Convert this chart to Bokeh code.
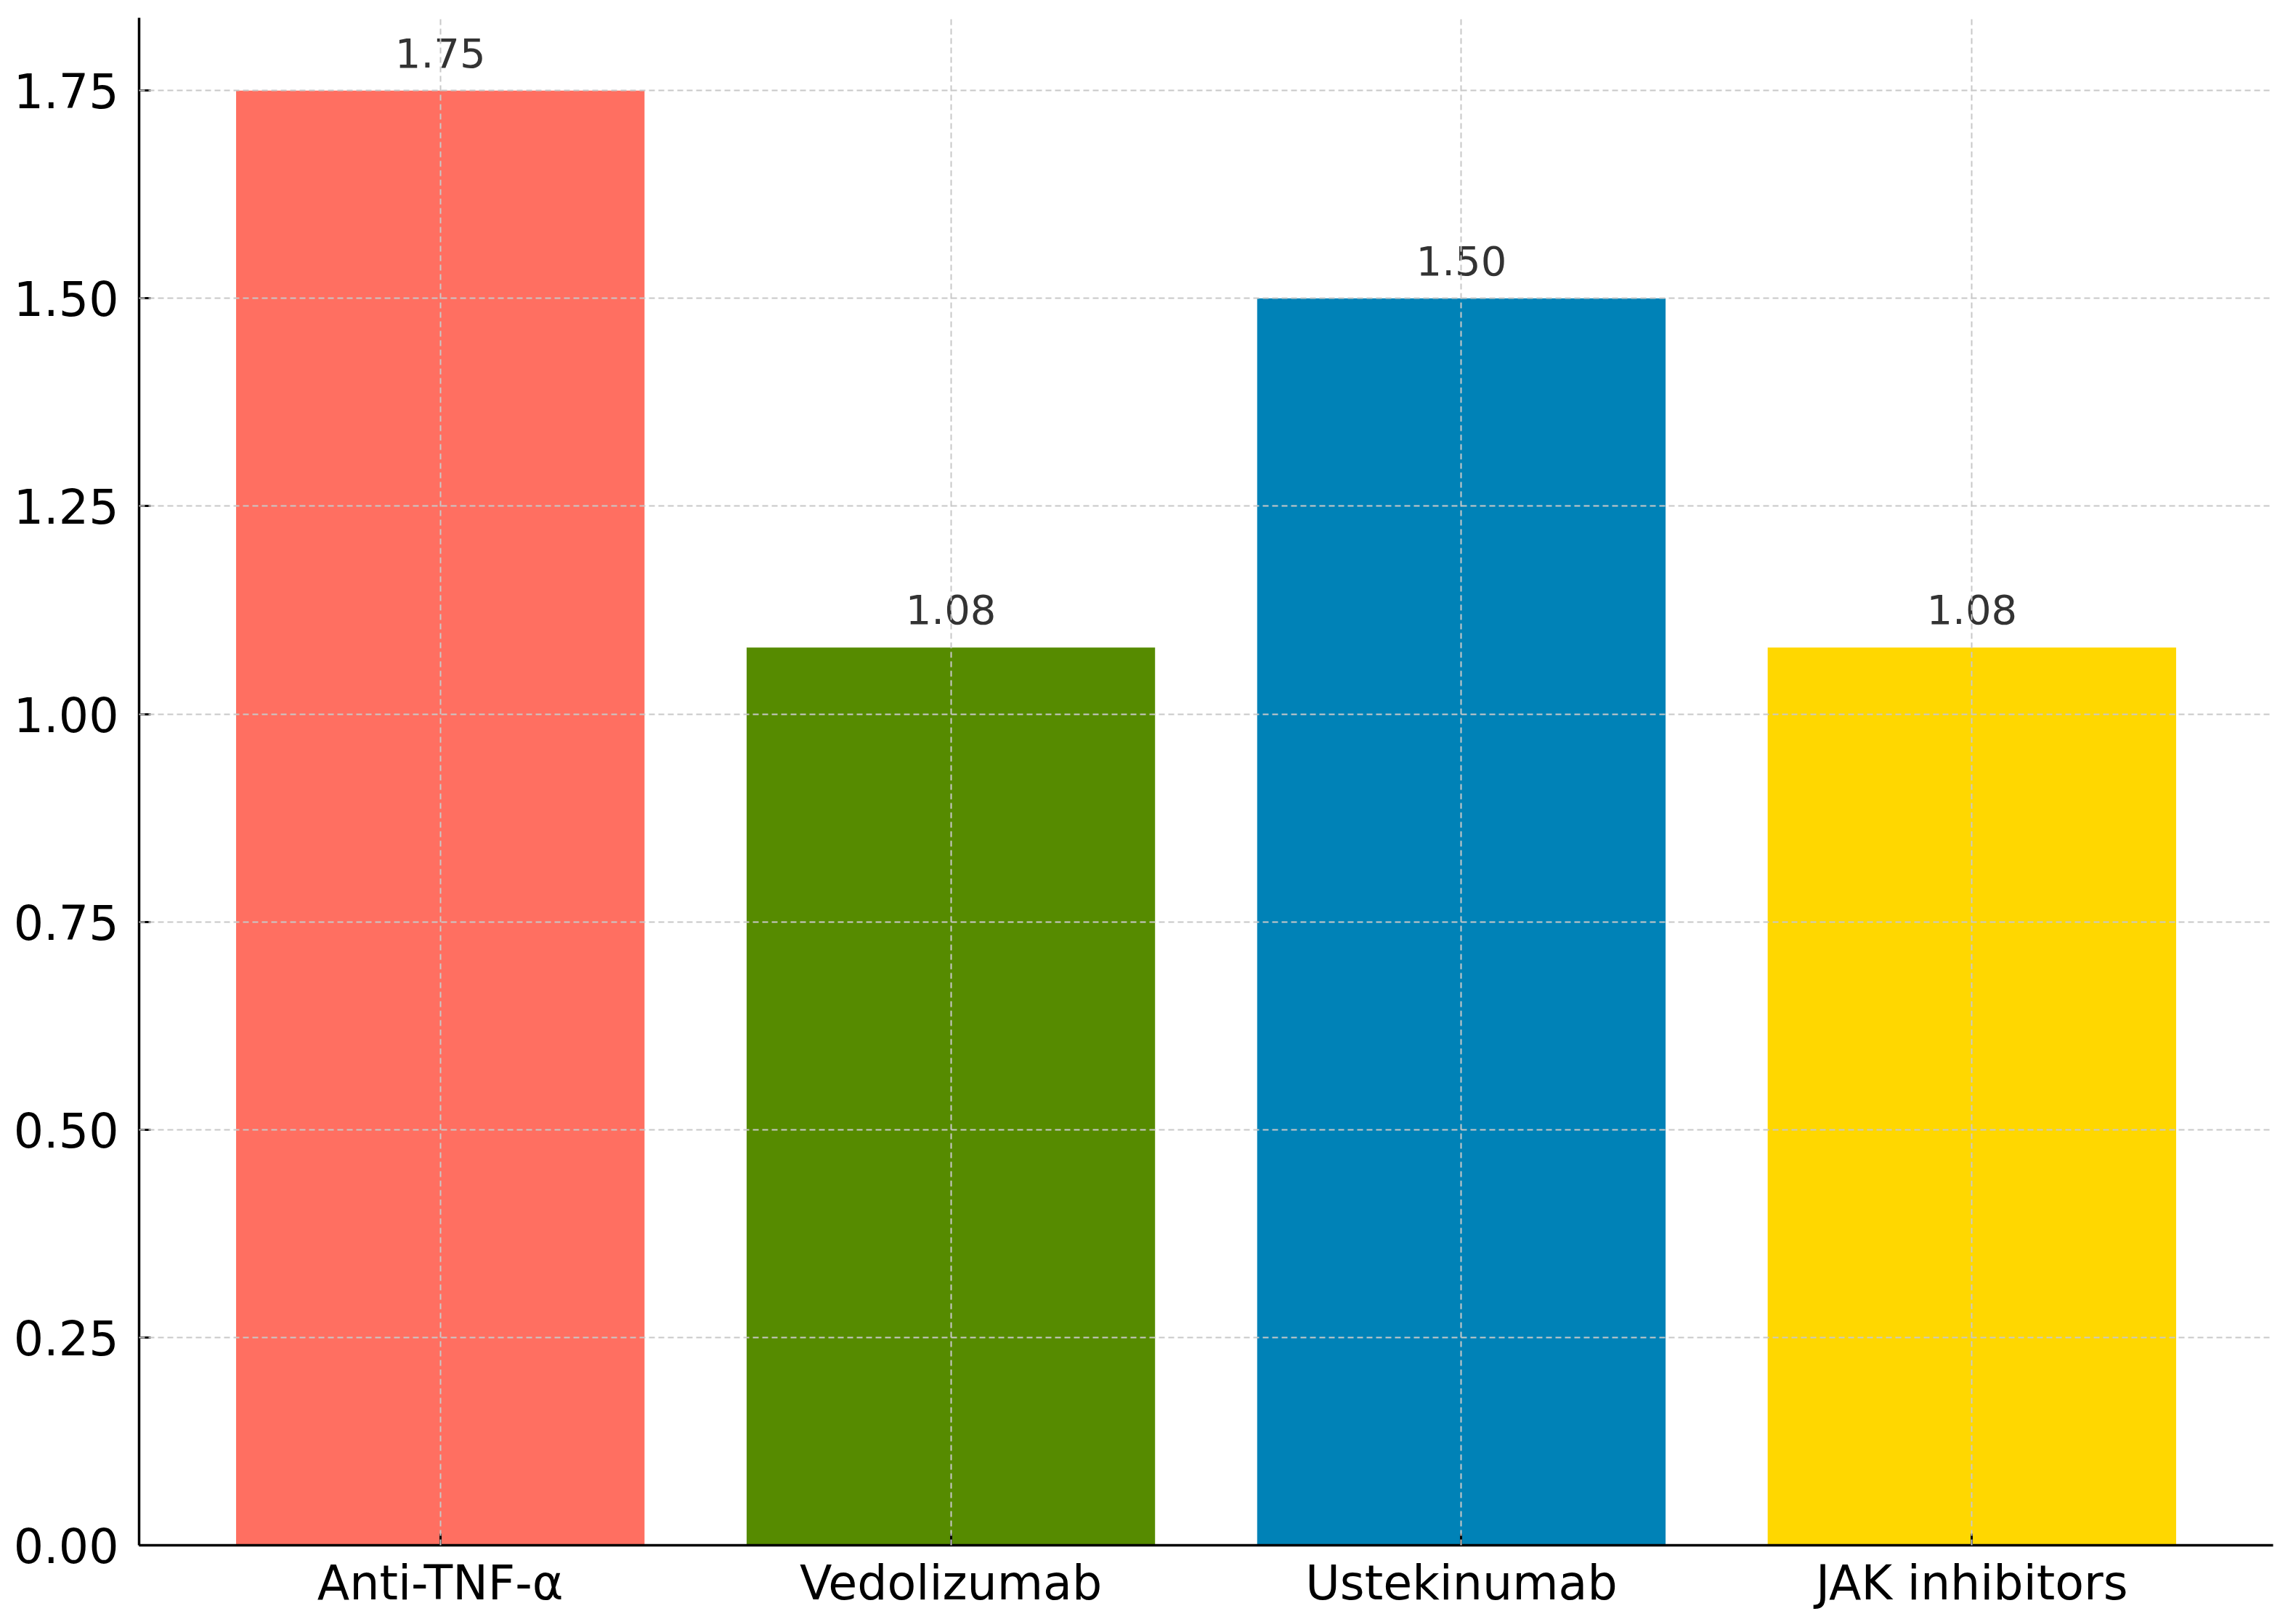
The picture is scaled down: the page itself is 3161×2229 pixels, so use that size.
from bokeh.plotting import figure
from bokeh.models import Range1d, FixedTicker, ColumnDataSource
from bokeh.core.properties import value
from bokeh.embed import file_html
from bokeh.resources import INLINE

categories = ["Anti-TNF-α", "Vedolizumab", "Ustekinumab", "JAK inhibitors"]
values = [1.75, 1.08, 1.50, 1.08]
colors = ["#FF6F61", "#568B00", "#0082B7", "#FFD700"]
value_labels = ["1.75", "1.08", "1.50", "1.08"]
y_ticks = [0.0, 0.25, 0.5, 0.75, 1.0, 1.25, 1.5, 1.75]
y_tick_labels = ["0.00", "0.25", "0.50", "0.75", "1.00", "1.25", "1.50", "1.75"]

xs = list(range(len(categories)))
n = len(categories)
bar_w = 0.8
pad = (n - 1 + bar_w) * 0.05
ymax = max(values) * 1.05

src = ColumnDataSource(dict(x=xs, top=values, color=colors,
                            ly=[v + 0.028 for v in values], lab=value_labels))

p = figure(width=3150, height=2220, output_backend="svg", toolbar_location=None,
           x_range=Range1d(-bar_w / 2 - pad, n - 1 + bar_w / 2 + pad),
           y_range=Range1d(0, ymax),
           min_border_left=191, min_border_right=21, min_border_top=24, min_border_bottom=93)
p.outline_line_color = None
p.background_fill_color = "white"
p.border_fill_color = "white"

p.vbar(x="x", top="top", bottom=0, width=bar_w, color="color", line_color=None, source=src)
p.text(x="x", y="ly", text="lab", source=src, text_align="center", text_baseline="bottom",
       text_font=value("DejaVu Sans"), text_font_size="56px", text_color="#333333")

for ax in (p.xaxis[0], p.yaxis[0]):
    ax.axis_line_width = 3.5
    ax.axis_line_color = "black"
    ax.major_tick_in = 16
    ax.major_tick_out = 0
    ax.major_tick_line_width = 3
    ax.minor_tick_line_color = None
    ax.major_label_text_font = "DejaVu Sans"
    ax.major_label_text_font_size = "65px"
    ax.major_label_text_color = "black"

p.xaxis.ticker = FixedTicker(ticks=xs)
p.xaxis.major_label_overrides = {i: c for i, c in zip(xs, categories)}
p.xaxis.major_label_standoff = 14
p.yaxis.ticker = FixedTicker(ticks=y_ticks)
p.yaxis.major_label_overrides = {t: l for t, l in zip(y_ticks, y_tick_labels)}
p.yaxis.major_label_standoff = 28

for g in (p.xgrid[0], p.ygrid[0]):
    g.grid_line_color = "#c8c8c8"
    g.grid_line_width = 2
    g.grid_line_dash = "8 5"
    g.level = "overlay"

open("out.html", "w").write(file_html(p, INLINE))
